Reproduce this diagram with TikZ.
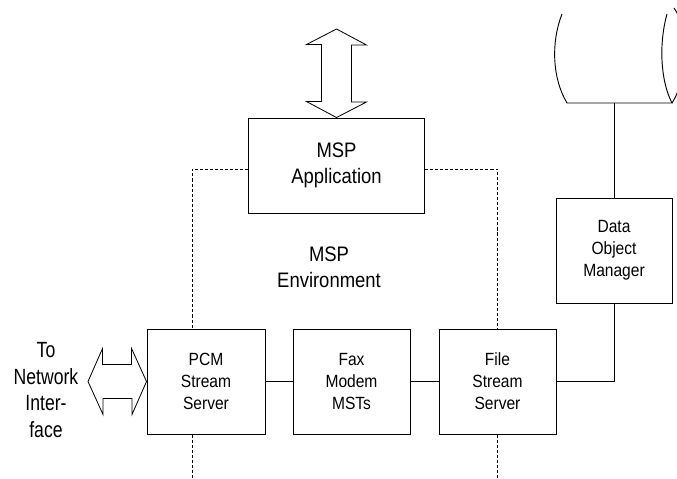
\documentclass[tikz,border=0pt]{standalone}
\usepackage{fontspec}
\setmainfont{Liberation Sans}
\newfontfamily\boxfont[FakeStretch=0.88]{Liberation Sans}
\newfontfamily\labelfont[FakeStretch=0.8]{Liberation Sans}

\begin{document}
\begin{tikzpicture}[x=0.03cm, y=-0.03cm,
    block/.style={draw, line width=0.8pt, align=center, inner sep=0pt,
        font=\boxfont\fontsize{15.1}{18.8}\selectfont},
    bigtext/.style={font=\boxfont\fontsize{17.9}{22}\selectfont},
    envline/.style={line width=0.7pt, dash pattern=on 2.6pt off 1.7pt},
    link/.style={line width=0.8pt},
    fatarrow/.style={line width=0.7pt, line join=miter}]
    \clip (0,0) rectangle (677,478);

    % Blocks
    \node[block, bigtext, minimum width=5.28cm, minimum height=2.85cm] (app) at (336.5,165.5) {MSP\\Application};
    \node[block, minimum width=3.54cm, minimum height=3.15cm] (pcm) at (206,381.5) {PCM\\Stream\\Server};
    \node[block, minimum width=3.51cm, minimum height=3.15cm] (fax) at (351.5,381.5) {Fax\\Modem\\MSTs};
    \node[block, minimum width=3.51cm, minimum height=3.15cm] (file) at (497.5,381.5) {File\\Stream\\Server};
    \node[block, minimum width=3.48cm, minimum height=3.15cm] (dom) at (614,250.5) {Data\\Object\\Manager};

    % Labels
    \node[bigtext, align=center] (env) at (329,267) {MSP\\Environment};
    \node[font=\labelfont\fontsize{18.8}{22.5}\selectfont, align=center] (net) at (46,390) {To\\Network\\Inter-\\face};

    % Environment boundary
    \coordinate (envL) at (192,169);
    \coordinate (envR) at (497.5,169);
    \draw[envline] (app.west |- envL) -- (envL) -- (envL |- pcm.north);
    \draw[envline] (app.east |- envR) -- (envR) -- (file.north);
    \draw[envline] (envL |- pcm.south) -- (envL |- 0,478);
    \draw[envline] (file.south) -- (file.south |- 0,478);

    % Storage drum
    \coordinate (drumbl) at (567,103);
    \coordinate (drumbr) at (672,103);
    \draw[link] (562,14) .. controls (551,42) and (552,78) .. (drumbl) -- (drumbr)
        .. controls (660,80) and (659,42) .. (667,14);
    \draw[link] (drumbr) .. controls (688,78) and (690,30) .. (674,8);

    % Connections
    \draw[link] (pcm) -- (fax);
    \draw[link] (fax) -- (file);
    \draw[link] (file.east) -| (dom.south);
    \draw[link] (dom.north) -- (dom.north |- drumbl);

    % Double arrows
    \coordinate (apptop) at (336.5,29);
    \draw[fatarrow] (app.north) -- ++(-30,-16) -- ++(15,0) -- ++(0,-57) -- ++(-15,0) -- (apptop)
        -- ++(30,16) -- ++(-15,0) -- ++(0,57) -- ++(15,0) -- cycle;
    \coordinate (nettip) at (88,381.5);
    \draw[fatarrow] (pcm.west) -- ++(-15,-33) -- ++(0,16) -- ++(-29,0) -- ++(0,-16) -- (nettip)
        -- ++(15,33) -- ++(0,-16) -- ++(29,0) -- ++(0,16) -- cycle;
\end{tikzpicture}
\end{document}
